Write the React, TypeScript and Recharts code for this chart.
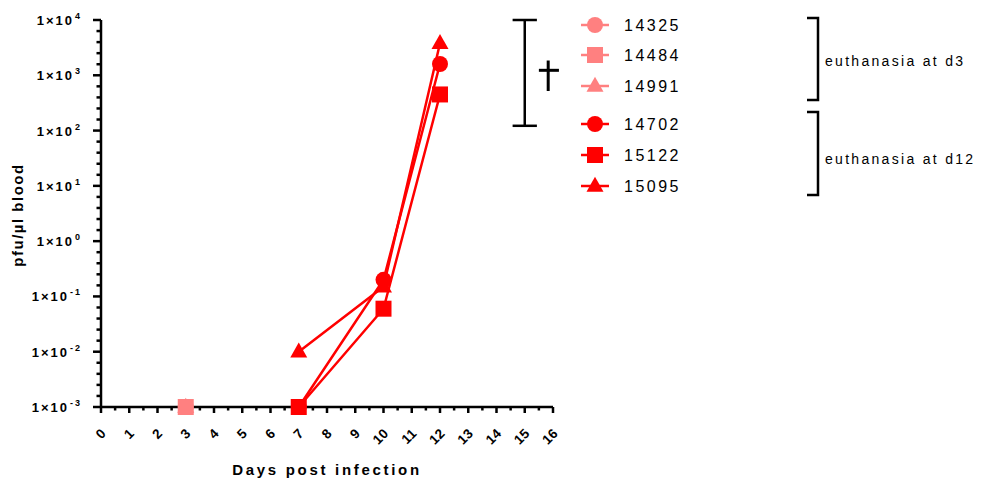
import React from "react";
import { LineChart, Line, XAxis, YAxis, Legend, ReferenceLine } from "recharts";

// ---- data ----
const days14325 = [3];
const vals14325 = [0.001];
const days14484 = [3];
const vals14484 = [0.001];
const days14991 = [3];
const vals14991 = [0.001];
const days14702 = [7, 10, 12];
const vals14702 = [0.001, 0.2, 1600];
const days15122 = [7, 10, 12];
const vals15122 = [0.001, 0.06, 450];
const days15095 = [7, 10, 12];
const vals15095 = [0.01, 0.15, 3800];

const seriesNames = ["14325", "14484", "14991", "14702", "15122", "15095"];
const seriesShapes = ["circle", "square", "triangle", "circle", "square", "triangle"];
const seriesColors = ["#FF8080", "#FF8080", "#FF8080", "#FF0000", "#FF0000", "#FF0000"];
const groupLabels = ["euthanasia at d3", "euthanasia at d12"];

const yMin = 0.001;
const yMax = 10000;
const xTicks = Array.from({ length: 33 }, (_, i) => i / 2);
const decades = [-3, -2, -1, 0, 1, 2, 3, 4];
const yTicks: number[] = [];
decades.forEach((d) => {
  for (let k = 0; k < 5; k++) {
    if (d === 4 && k > 0) break;
    yTicks.push(Math.pow(10, d + k * 0.2));
  }
});

// dagger annotation (day, value)
const barDay = 15;
const barLow = 122;
const barHigh = 10000;

const toData = (days: number[], vals: number[]) => days.map((d, i) => ({ day: d, v: vals[i] }));
const seriesData = [
  toData(days14325, vals14325),
  toData(days14484, vals14484),
  toData(days14991, vals14991),
  toData(days14702, vals14702),
  toData(days15122, vals15122),
  toData(days15095, vals15095),
];
// days where a marker sits on the x axis (it covers the tick there)
const floorDays = seriesData.flatMap((s) => s.filter((p) => p.v <= yMin).map((p) => p.day));

const FONT = "'Liberation Sans', Arial, sans-serif";

const Marker = ({ shape, cx, cy, color }: any) => {
  if (cx == null || cy == null) return null;
  if (shape === "circle") return <circle cx={cx} cy={cy} r={8} fill={color} />;
  if (shape === "square") return <rect x={cx - 8} y={cy - 8} width={16} height={16} fill={color} />;
  const w = 17, h = 15;
  return (
    <polygon
      points={`${cx},${cy - h * 0.62} ${cx - w / 2},${cy + h * 0.38} ${cx + w / 2},${cy + h * 0.38}`}
      fill={color}
    />
  );
};

const YTick = (props: any) => {
  const { x, y, payload } = props;
  const e = Math.log10(payload.value);
  const major = Math.abs(e - Math.round(e)) < 1e-6;
  const exp = Math.round(e);
  return (
    <g>
      <line x1={x} x2={x - (major ? 8 : 4.5)} y1={y} y2={y} stroke="#000" strokeWidth={2.5} />
      {major && (
        <text
          x={x - 19}
          y={y + 5}
          textAnchor="end"
          fontFamily={FONT}
          fontWeight="bold"
          fontSize={13}
          letterSpacing={2}
          fill="#000"
        >
          1×10
          <tspan dy={-6} fontSize={9} dx={1}>
            {exp}
          </tspan>
        </text>
      )}
    </g>
  );
};

const XTick = (props: any) => {
  const { x, y, payload } = props;
  const v = payload.value;
  const major = Number.isInteger(v);
  const covered = floorDays.includes(v);
  return (
    <g>
      {!covered && (
        <line x1={x} x2={x} y1={y} y2={y + (major ? 6 : 3.5)} stroke="#000" strokeWidth={2.5} />
      )}
      {major && (
        <text
          transform={`translate(${x + 6},${y + 27}) rotate(-45)`}
          textAnchor="end"
          fontFamily={FONT}
          fontWeight="bold"
          fontSize={13.5}
          letterSpacing={0.5}
          fill="#000"
        >
          {v}
        </text>
      )}
    </g>
  );
};

const rowY = [25, 55, 86, 124, 155, 186];

const LegendContent = (props: any) => {
  const payload = props.payload || [];
  return (
    <svg width={422} height={210} style={{ display: "block" }}>
      {payload.map((entry: any, i: number) => {
        const idx = seriesNames.indexOf(String(entry.value));
        const y = rowY[idx];
        const color = seriesColors[idx];
        return (
          <g key={i}>
            <line x1={11} x2={39} y1={y} y2={y} stroke={color} strokeWidth={2.5} />
            <Marker shape={seriesShapes[idx]} cx={25} cy={y} color={color} />
            <text x={54} y={y + 6} fontFamily={FONT} fontSize={16} letterSpacing={2.5} fill="#000">
              {entry.value}
            </text>
          </g>
        );
      })}
      <path d="M237,18 H248 V100 H237" fill="none" stroke="#000" strokeWidth={2.5} />
      <path d="M237,112 H248 V195 H237" fill="none" stroke="#000" strokeWidth={2.5} />
      <text x={255} y={66} fontFamily={FONT} fontSize={14} letterSpacing={2.3} fill="#000">
        {groupLabels[0]}
      </text>
      <text x={255} y={164} fontFamily={FONT} fontSize={14} letterSpacing={2.3} fill="#000">
        {groupLabels[1]}
      </text>
    </svg>
  );
};

const XLabel = (props: any) => {
  const vb = props.viewBox || {};
  return (
    <text
      x={vb.x + vb.width / 2}
      y={vb.y + 68}
      textAnchor="middle"
      fontFamily={FONT}
      fontWeight="bold"
      fontSize={15}
      letterSpacing={2.7}
      fill="#000"
    >
      Days post infection
    </text>
  );
};

const YLabel = () => (
  <text
    transform="translate(23,215) rotate(-90)"
    textAnchor="middle"
    fontFamily={FONT}
    fontWeight="bold"
    fontSize={15}
    letterSpacing={1.5}
    fill="#000"
  >
    pfu/µl blood
  </text>
);

export default function App() {
  return (
    <div style={{ position: "absolute", left: 0, top: 0, width: 992, height: 479, background: "#fff" }}>
      <LineChart width={992} height={479} margin={{ top: 20, right: 439, bottom: 32, left: 41 }}>
        <XAxis
          type="number"
          dataKey="day"
          domain={[0, 16]}
          ticks={xTicks}
          interval={0}
          tickLine={false}
          tickSize={0}
          tickMargin={0}
          tick={<XTick />}
          axisLine={false}
          height={40}
          label={XLabel}
        />
        <YAxis
          type="number"
          scale="log"
          domain={[yMin, yMax]}
          ticks={yTicks}
          interval={0}
          tickLine={false}
          tickSize={0}
          tickMargin={0}
          tick={<YTick />}
          axisLine={{ stroke: "#000", strokeWidth: 2.5 }}
          width={60}
          label={YLabel}
        />
        <ReferenceLine y={yMin} stroke="#000" strokeWidth={2.5} ifOverflow="visible" />
        <ReferenceLine
          segment={[{ x: barDay, y: barLow }, { x: barDay, y: barHigh }]}
          stroke="#000"
          strokeWidth={2.5}
          ifOverflow="visible"
        />
        <ReferenceLine
          segment={[{ x: barDay - 0.43, y: barHigh }, { x: barDay + 0.43, y: barHigh }]}
          stroke="#000"
          strokeWidth={2.5}
          ifOverflow="visible"
        />
        <ReferenceLine
          segment={[{ x: barDay - 0.43, y: barLow }, { x: barDay + 0.43, y: barLow }]}
          stroke="#000"
          strokeWidth={2.5}
          ifOverflow="visible"
        />
        <ReferenceLine
          segment={[{ x: 15.83, y: 1850 }, { x: 15.83, y: 520 }]}
          stroke="#000"
          strokeWidth={3}
          ifOverflow="visible"
        />
        <ReferenceLine
          segment={[{ x: 15.5, y: 1230 }, { x: 16.21, y: 1230 }]}
          stroke="#000"
          strokeWidth={3}
          ifOverflow="visible"
        />
        {seriesNames.map((name, i) => (
          <Line
            key={name}
            name={name}
            data={seriesData[i]}
            dataKey="v"
            stroke={seriesColors[i]}
            strokeWidth={2.5}
            isAnimationActive={false}
            dot={(p: any) => (
              <Marker key={`${name}-${p.index}`} shape={seriesShapes[i]} cx={p.cx} cy={p.cy} color={seriesColors[i]} />
            )}
            activeDot={false}
          />
        ))}
        <Legend
          layout="vertical"
          align="center"
          verticalAlign="middle"
          content={LegendContent}
          wrapperStyle={{ position: "absolute", left: 570, top: 0, width: 422, height: 210 }}
        />
      </LineChart>
    </div>
  );
}
